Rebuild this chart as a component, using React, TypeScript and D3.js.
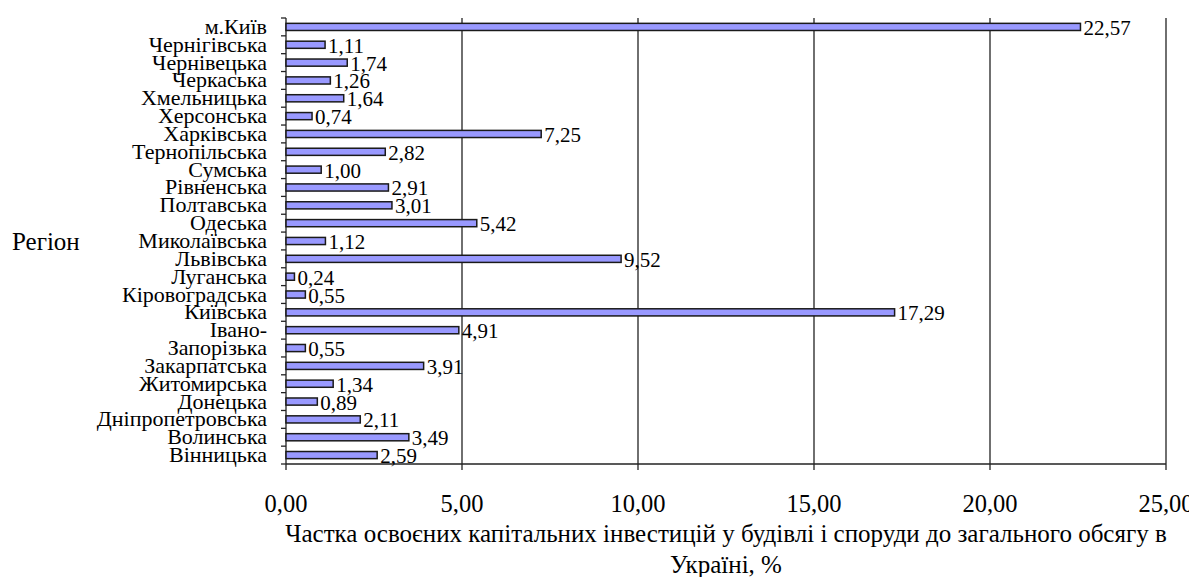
import React from "react";
import * as d3 from "d3";

// regions from the top of the chart down
const regions = [
  "м.Київ", "Чернігівська", "Чернівецька", "Черкаська", "Хмельницька",
  "Херсонська", "Харківська", "Тернопільська", "Сумська", "Рівненська",
  "Полтавська", "Одеська", "Миколаївська", "Львівська", "Луганська",
  "Кіровоградська", "Київська", "Івано-", "Запорізька", "Закарпатська",
  "Житомирська", "Донецька", "Дніпропетровська", "Волинська", "Вінницька",
];
const shares = [
  22.57, 1.11, 1.74, 1.26, 1.64, 0.74, 7.25, 2.82, 1.0, 2.91, 3.01, 5.42,
  1.12, 9.52, 0.24, 0.55, 17.29, 4.91, 0.55, 3.91, 1.34, 0.89, 2.11, 3.49, 2.59,
];
const xTicks = [0, 5, 10, 15, 20, 25];
const xTitle = [
  "Частка освоєних капітальних інвестицій у будівлі і споруди до загального обсягу в",
  "Україні, %",
];

const fmt = (v: number) => v.toFixed(2).replace(".", ",");
const font = "Liberation Serif";

const margin = { left: 286, top: 18 };
const width = 880;
const height = 446;

const x = d3.scaleLinear().domain([0, 25]).range([0, width]);
const y = d3.scaleBand().domain(regions).range([0, height]).paddingInner(0.6).paddingOuter(0.3);
const band = height / regions.length;
const line = "#222";

// svg is pulled 8px up/left over the body margin, so it is made 8px larger
const App = () => (
  <svg width={1205} height={585} style={{ display: "block", margin: "-8px 0 0 -8px" }}>
    <g transform={`translate(${margin.left},${margin.top})`}>
      {/* vertical gridlines */}
      {xTicks.map((t) => (
        <line key={t} x1={x(t)} x2={x(t)} y1={0} y2={height + 6} stroke={line} strokeWidth={1.3} />
      ))}
      <line x1={0} x2={width} y1={height} y2={height} stroke={line} strokeWidth={1.3} />

      {/* y ticks between categories */}
      {d3.range(regions.length + 1).map((i) => (
        <line key={i} x1={-5} x2={0} y1={i * band} y2={i * band} stroke={line} strokeWidth={1.3} />
      ))}

      {/* bars */}
      {regions.map((r, i) => (
        <rect
          key={r}
          x={0}
          y={y(r)}
          width={x(shares[i])}
          height={y.bandwidth()}
          fill="#9999ff"
          stroke="#1a1a1a"
          strokeWidth={1.5}
        />
      ))}

      {/* value labels */}
      {regions.map((r, i) => (
        <text key={r} x={x(shares[i]) + 3} y={y(r)! + y.bandwidth() / 2 + 8} fontFamily={font} fontSize={21}>
          {fmt(shares[i])}
        </text>
      ))}

      {/* category labels */}
      {regions.map((r) => (
        <text
          key={r}
          x={-19}
          y={y(r)! + y.bandwidth() / 2 + 7}
          fontFamily={font}
          fontSize={22}
          textAnchor="end"
        >
          {r}
        </text>
      ))}

      {/* x tick labels */}
      {xTicks.map((t) => (
        <text key={t} x={x(t)} y={height + 48} fontFamily={font} fontSize={24.5} textAnchor="middle">
          {fmt(t)}
        </text>
      ))}

      {/* x title */}
      {xTitle.map((s, i) => (
        <text key={s} x={440} y={height + 78 + i * 31} fontFamily={font} fontSize={25} textAnchor="middle">
          {s}
        </text>
      ))}

      {/* y title */}
      <text x={-274} y={height / 2 + 9} fontFamily={font} fontSize={25}>
        Регіон
      </text>
    </g>
  </svg>
);

export default App;
